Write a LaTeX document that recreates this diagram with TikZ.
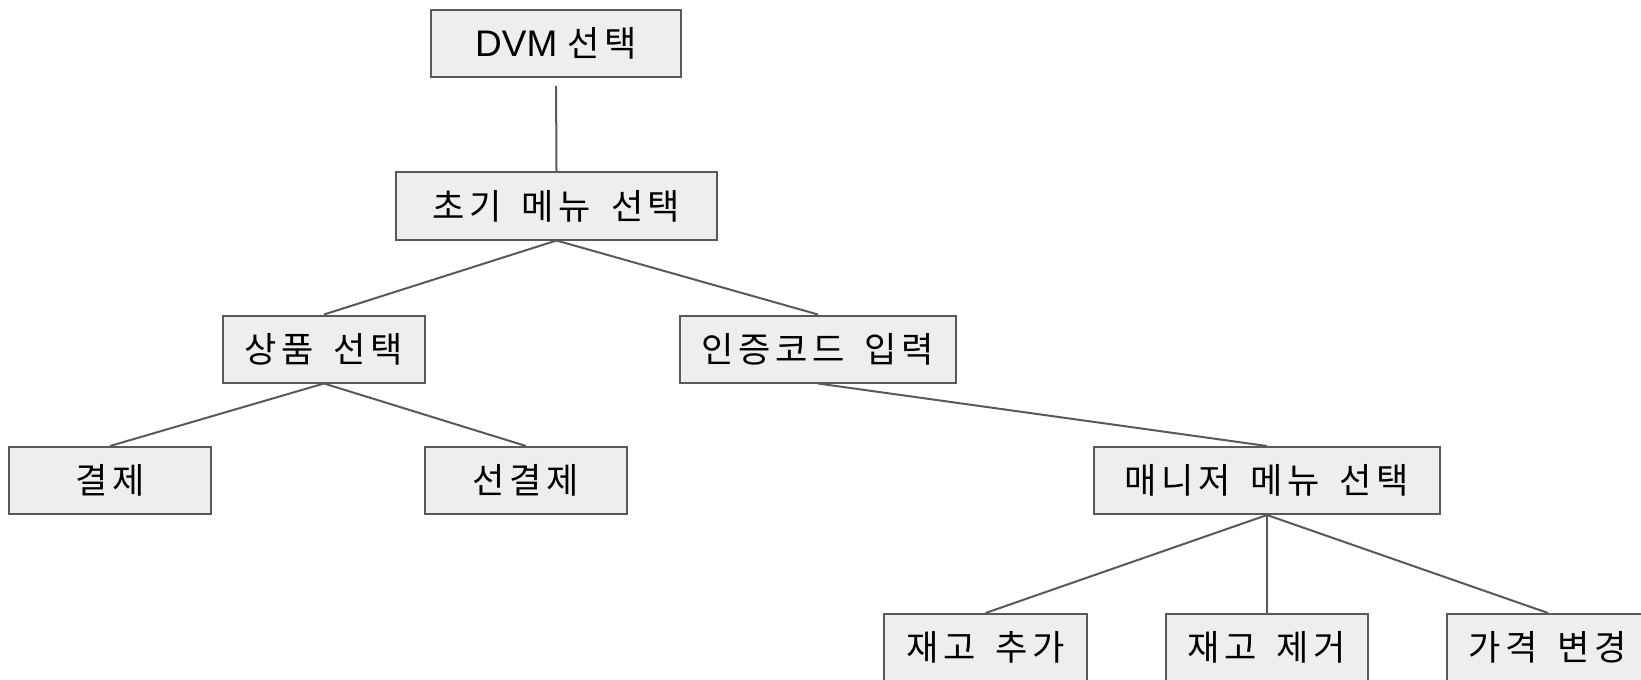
\documentclass[tikz,border=0pt]{standalone}
\usepackage{fontspec}
\setmainfont{Liberation Sans}
\newfontfamily\kr[Scale=0.95,LetterSpace=13,WordSpace=1.6]{Noto Sans CJK KR}
\usetikzlibrary{positioning}
\definecolor{boxfill}{HTML}{EEEEEE}
\definecolor{boxline}{HTML}{595959}
\tikzstyle{menu}=[
	rectangle,
	draw=boxline,
	line width=1pt,
	fill=boxfill,
	minimum height=33.5pt,
	inner sep=0pt,
	font=\fontsize{18.5}{22}\selectfont
]
\tikzstyle{link}=[
	draw=boxline,
	line width=1pt
]

\begin{document}
\begin{tikzpicture}[x=0.5pt,y=-0.5pt]
\useasboundingbox (0,0) rectangle (1641,679);
\clip (0,0) rectangle (1641,679);
\node [menu, minimum width=125pt] (DVM) at (556,43.5) {DVM {\kr 선택}};
\node [menu, minimum width=160.5pt] (InitMenu) at (556.5,206) {\kr 초기 메뉴 선택};
\node [menu, minimum width=101pt] (SelectProduct) at (324,349) {\kr 상품 선택};
\node [menu, minimum width=138pt] (AuthCode) at (818,349) {\kr 인증코드 입력};
\node [menu, minimum width=101pt] (Pay) at (110,480.5) {\kr 결제};
\node [menu, minimum width=101pt] (PrePay) at (526,480.5) {\kr 선결제};
\node [menu, minimum width=173pt] (ManagerMenu) at (1267,480.5) {\kr 매니저 메뉴 선택};
\node [menu, minimum width=101.5pt] (AddStock) at (985.5,647.5) {\kr 재고 추가};
\node [menu, minimum width=101pt] (RemoveStock) at (1267,647.5) {\kr 재고 제거};
\node [menu, minimum width=101pt] (ChangePrice) at (1548,647.5) {\kr 가격 변경};

\draw [link, shorten <=4pt] (DVM.south) -- (InitMenu.north);
\draw [link] (InitMenu.south) -- (SelectProduct.north);
\draw [link] (InitMenu.south) -- (AuthCode.north);
\draw [link] (SelectProduct.south) -- (Pay.north);
\draw [link] (SelectProduct.south) -- (PrePay.north);
\draw [link] (AuthCode.south) -- (ManagerMenu.north);
\draw [link] (ManagerMenu.south) -- (AddStock.north);
\draw [link] (ManagerMenu.south) -- (RemoveStock.north);
\draw [link] (ManagerMenu.south) -- (ChangePrice.north);
\end{tikzpicture}
\end{document}
